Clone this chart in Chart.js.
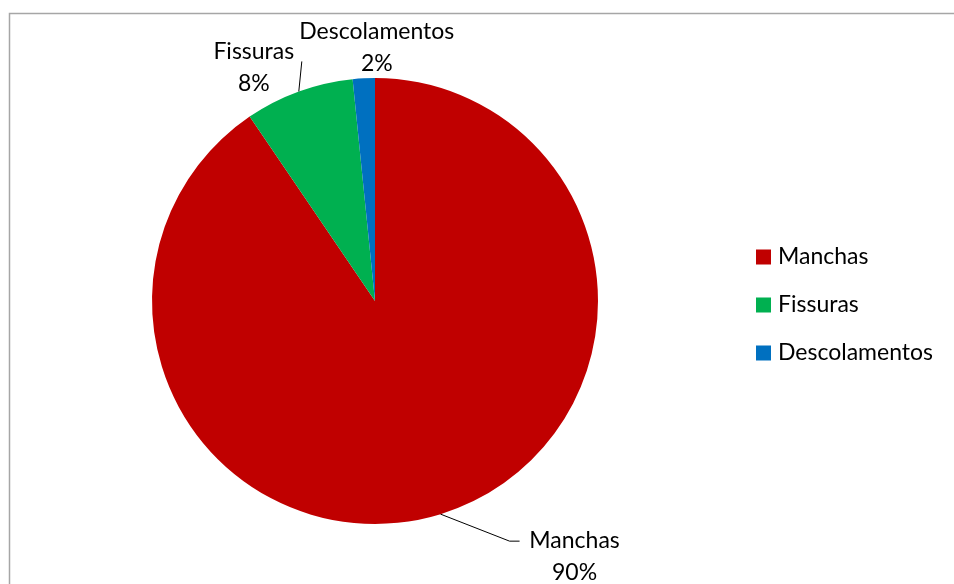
<!DOCTYPE html>
<html><head><meta charset="utf-8">
<script src="https://cdn.jsdelivr.net/npm/chart.js@4/dist/chart.umd.min.js"></script>
<style>html,body{margin:0;padding:0;background:#fff}#wrap{width:954px;height:584px;position:relative}</style>
</head><body><div id="wrap"><canvas id="c" width="954" height="584"></canvas></div>
<script>
const categories = ['Manchas', 'Fissuras', 'Descolamentos'];
const values = [90.5, 7.9, 1.6];
const percentLabels = ['90%', '8%', '2%'];
const colors = ['#C00000', '#00B050', '#0070C0'];

const FONT = '23px Lato';
// label placement relative to slice edge point (style only)
const labelStyle = [
  {dx: 134, dy: 26, leader: [[69, 27], [79, 27]]},
  {dx: -45, dy: -40, leader: [[3, -30]]},
  {dx: 13, dy: -47, leader: null}
];

const deco = {
  id: 'deco',
  beforeDraw(chart) {
    const ctx = chart.ctx;
    ctx.save();
    ctx.fillStyle = '#fff';
    ctx.fillRect(0, 0, chart.width, chart.height);
    ctx.strokeStyle = '#A6A6A6';
    ctx.lineWidth = 1.5;
    ctx.strokeRect(9.5, 13.5, 1000, 700);
    ctx.restore();
  },
  afterDraw(chart) {
    const ctx = chart.ctx;
    const meta = chart.getDatasetMeta(0);
    ctx.save();
    ctx.font = FONT;
    ctx.fillStyle = '#000';
    ctx.textAlign = 'center';
    ctx.textBaseline = 'middle';
    meta.data.forEach((arc, i) => {
      const mid = (arc.startAngle + arc.endAngle) / 2;
      const ex = arc.x + arc.outerRadius * Math.cos(mid);
      const ey = arc.y + arc.outerRadius * Math.sin(mid);
      const st = labelStyle[i];
      if (st.leader) {
        ctx.beginPath();
        ctx.strokeStyle = '#000';
        ctx.lineWidth = 1;
        ctx.moveTo(ex, ey);
        st.leader.forEach(p => ctx.lineTo(ex + p[0], ey + p[1]));
        ctx.stroke();
      }
      const lx = ex + st.dx, ly = ey + st.dy;
      ctx.fillText(categories[i], lx, ly);
      ctx.fillText(percentLabels[i], lx, ly + 32);
    });
    // legend
    const lgX = 756, lgY = 257, gap = 48;
    ctx.textAlign = 'left';
    categories.forEach((c, i) => {
      ctx.fillStyle = colors[i];
      ctx.fillRect(lgX, lgY + i * gap - 7.5, 15, 15);
      ctx.fillStyle = '#000';
      ctx.fillText(c, lgX + 22, lgY + i * gap);
    });
    ctx.restore();
  }
};

new Chart(document.getElementById('c'), {
  type: 'pie',
  data: {
    labels: categories,
    datasets: [{data: values, backgroundColor: colors, borderWidth: 0}]
  },
  options: {
    responsive: false,
    animation: false,
    layout: {padding: {left: 152, right: 356, top: 78, bottom: 60}},
    plugins: {legend: {display: false}, tooltip: {enabled: false}}
  },
  plugins: [deco]
});
</script></body></html>
